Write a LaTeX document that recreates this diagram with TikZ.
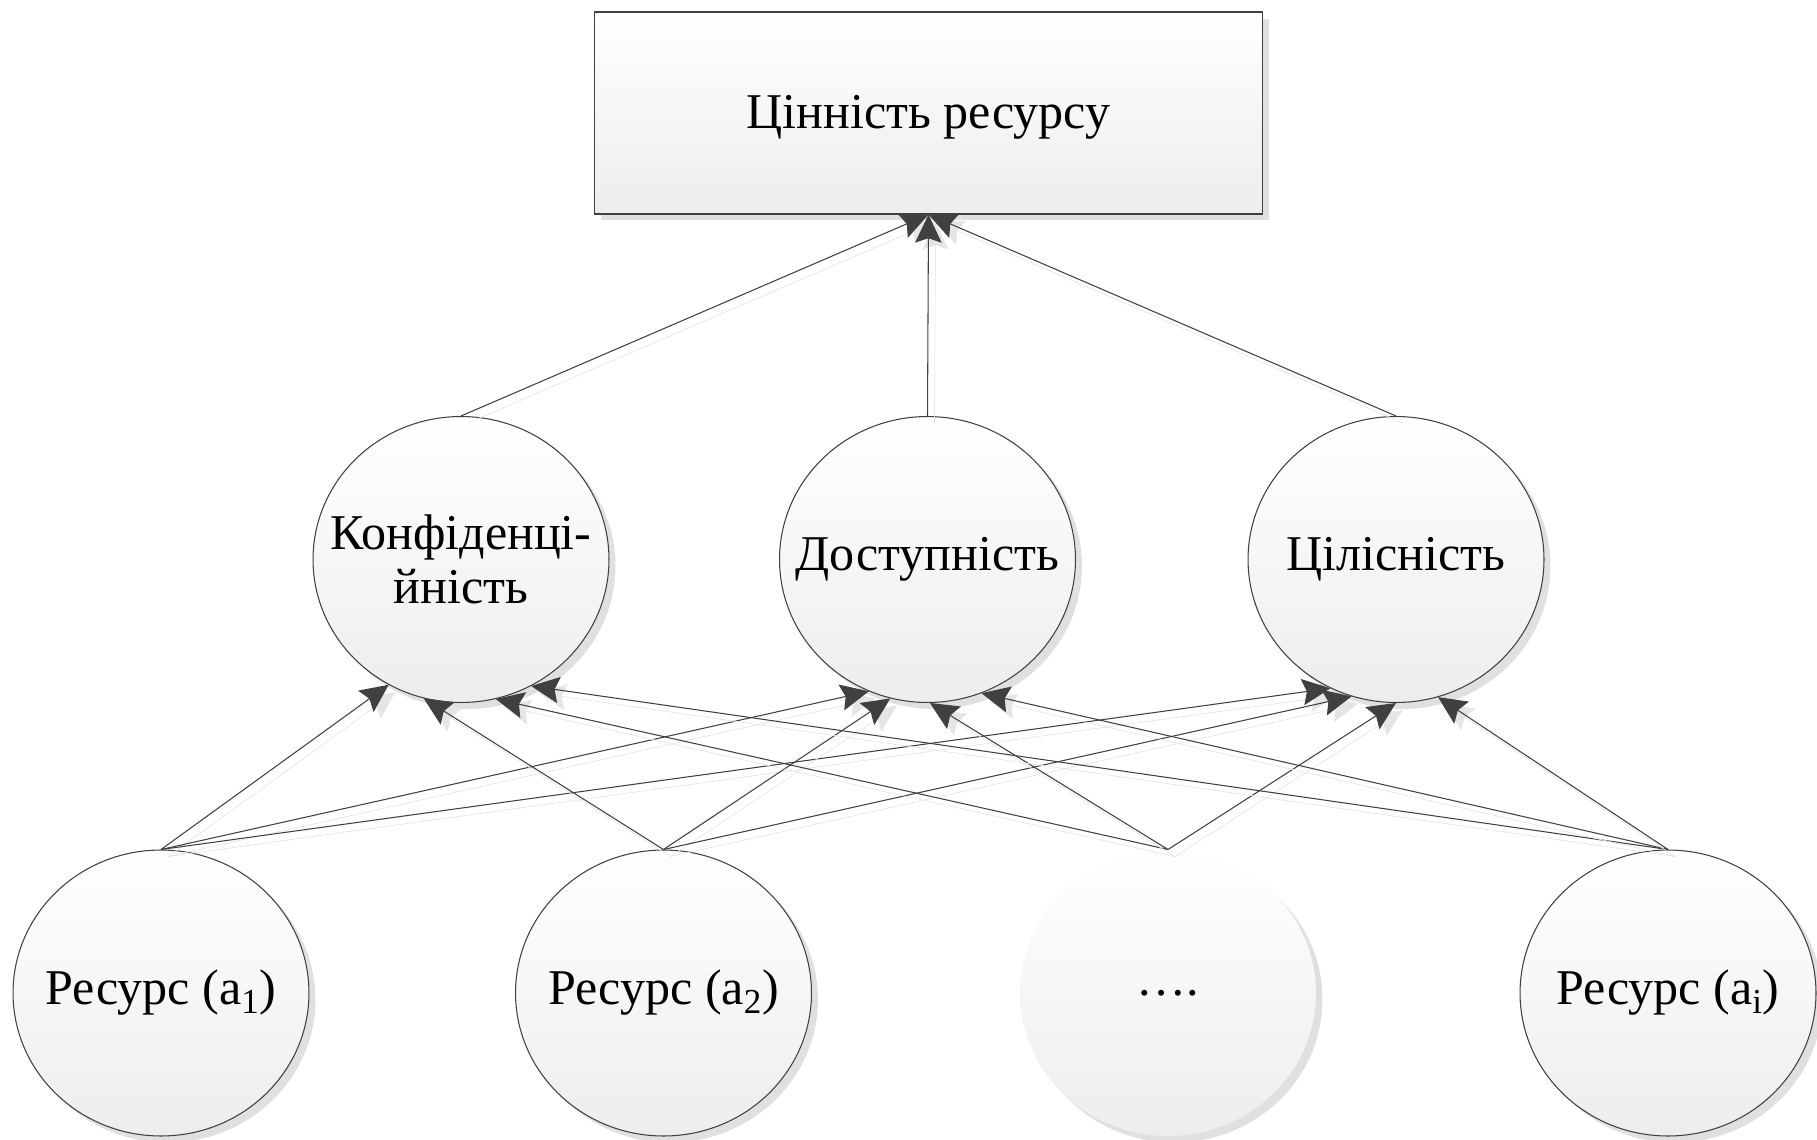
\documentclass[tikz,border=0pt]{standalone}
\usepackage{fontspec}
\setmainfont{Liberation Serif}
\usetikzlibrary{arrows.meta,shapes.geometric,shadows}
\newcommand\zw[1]{\makebox[0pt]{#1}}
\tikzset{
  blk/.style={draw=black!75,line width=0.6pt,top color=white,bottom color=black!7,
    drop shadow={shadow xshift=0.13cm,shadow yshift=-0.13cm,fill=black!12,opacity=1}},
  crc/.style={blk,ellipse,minimum width=5.92cm,minimum height=5.72cm,inner sep=0pt,align=center},
  link/.style={draw=black!75,line width=0.6pt,-{Stealth[length=16pt,width=15pt,inset=2.5pt]},
    preaction={draw=black!10,transform canvas={xshift=0.14cm,yshift=-0.14cm}}}
}
\begin{document}
\begin{tikzpicture}[x=0.02cm,y=-0.02cm,every node/.style={font=\fontsize{28.5}{31}\selectfont}]
\useasboundingbox (0,0) rectangle (1817,1139);
\node[blk,minimum width=13.38cm,minimum height=4.04cm,text height=0.86cm,text depth=0.22cm] (val) at (928.5,113) {Цінність ресурсу};
\node[crc] (konf) at (461,559.5) {\zw{Конфіденці-}\\\zw{йність}};
\node[crc] (dost) at (927.5,559.5) {\zw{Доступність}};
\node[crc] (cil) at (1396,559.5) {\zw{Цілісність}};
\node[crc] (r1) at (161,993) {\zw{Ресурс (a\textsubscript{1})}};
\node[crc] (r2) at (663.5,993) {\zw{Ресурс (a\textsubscript{2})}};
\node[crc,draw=none] (rd) at (1168,993) {\zw{….}};
\node[crc] (ri) at (1668,993) {\zw{Ресурс (a\textsubscript{i})}};
\draw[link] (konf.north) -- (val.south);
\draw[link] (dost.north) -- (val.south);
\draw[link] (cil.north) -- (val.south);
\foreach \src/\a/\b/\c in {r1/240/246/243,r2/255/255/252,rd/284/271/270,ri/299/292/287}{
  \draw[link] (\src.north) -- (konf.\a);
  \draw[link] (\src.north) -- (dost.\b);
  \draw[link] (\src.north) -- (cil.\c);
}
\end{tikzpicture}
\end{document}
